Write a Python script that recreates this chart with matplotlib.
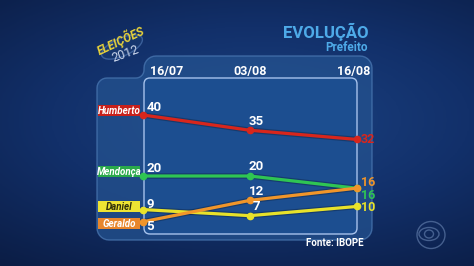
import numpy as np
import matplotlib.pyplot as plt
from matplotlib.colors import LinearSegmentedColormap
from matplotlib.patches import FancyBboxPatch, Ellipse, Polygon, Rectangle

plt.rcParams['font.family'] = ['Roboto', 'DejaVu Sans']

# data
dates = ["16/07", "03/08", "16/08"]
names = ["Humberto", "Mendonça", "Daniel", "Geraldo"]
humberto = [40, 35, 32]
mendonca = [20, 20, 16]
daniel = [9, 7, 10]
geraldo = [5, 12, 16]

series = [humberto, mendonca, daniel, geraldo]
colors = ["#d8261c", "#2fc553", "#e8e22a", "#f0952a"]
box_colors = ["#c8201a", "#2aa94a", "#eee433", "#e8862c"]
name_colors = ["white", "white", "#30300a", "white"]
# label nudges (in value units) so close labels don't collide
start_dy = [2.3, 2.3, 1.8, -1.6]
tag_dy = [1.4, 1.4, 0.9, -0.7]
end_dy = [0, -2.4, -0.2, 2.0]

W, H = 474, 266
fig = plt.figure(figsize=(W / 100, H / 100), dpi=100)

# background, pixel coords
bg = fig.add_axes([0, 0, 1, 1])
bg.set_xlim(0, W)
bg.set_ylim(H, 0)
bg.axis("off")
gx, gy = np.meshgrid(np.linspace(-1, 1, 200), np.linspace(-1, 1, 120))
grad = np.sqrt(((gx - 0.1) * 0.8) ** 2 + (gy + 0.1) ** 2)
cmap = LinearSegmentedColormap.from_list("bgc", ["#1b4282", "#12306a", "#0b1d45"])
bg.imshow(grad, extent=[0, W, H, 0], cmap=cmap, aspect="auto", zorder=0)


def arc(cx, cy, r, a0, a1, n=8):
    t = np.radians(np.linspace(a0, a1, n))
    return list(zip(cx + r * np.cos(t), cy + r * np.sin(t)))


# outer panel with tab (y grows downward)
pts = []
pts += arc(107, 88, 10, 180, 270)          # top-left of lower part
pts += arc(136, 70, 8, 90, 0)              # curve up into tab
pts += arc(156, 68, 12, 180, 270)          # tab top-left
pts += arc(360, 68, 12, 270, 360)          # top-right
pts += arc(360, 228, 12, 0, 90)            # bottom-right
pts += arc(109, 228, 12, 90, 180)          # bottom-left
bg.add_patch(Polygon(pts, closed=True, fc="#24528f", ec="#4a78b2", lw=1,
                     alpha=0.75, zorder=1))
inner = FancyBboxPatch((144, 78), 213, 156, boxstyle="round,pad=0,rounding_size=6",
                       fc="#1c4e90", ec="#a6c2ec", lw=1, zorder=2)
bg.add_patch(inner)

# titles
bg.text(369, 38, "EVOLUÇÃO", color="#4eaae8", fontsize=12, fontweight="bold",
        ha="right", va="baseline", zorder=3)
bg.text(368, 51, "Prefeito", color="#4eaae8", fontsize=8.5, fontweight="bold",
        ha="right", va="baseline", zorder=3)
bg.text(335, 243, "Fonte: IBOPE", color="white", fontsize=7, fontweight="bold",
        ha="center", va="center", zorder=3)

# logo
bg.add_patch(Ellipse((122, 47), 44, 18, angle=-24, fc="#16366e", ec="#3a5f9a",
                     lw=1, zorder=1))
bg.text(121, 40, "ELEIÇÕES", color="#e8d23a", fontsize=8.5, fontweight="bold",
        fontstyle="italic", rotation=25, ha="center", va="center", zorder=3)
bg.text(125, 54, "2012", color="#c8d4ea", fontsize=9, rotation=20,
        ha="center", va="center", zorder=3)

# tv logo
bg.add_patch(Ellipse((431, 235), 28, 27, fill=False, ec="#6a86b4", lw=1, alpha=0.6, zorder=1))
bg.add_patch(Ellipse((429, 234), 20, 13, fill=False, ec="#6a86b4", lw=1, alpha=0.6, zorder=1))
bg.add_patch(Ellipse((429, 234), 9, 8, fill=False, ec="#6a86b4", lw=1, alpha=0.6, zorder=1))

# data axes: x=0 -> px 143, x=2 -> px 356.5 ; v=40 -> px 115, 3.05 px per unit
ax = fig.add_axes([97 / W, 1 - 240 / H, 278 / W, 183 / H])
ax.patch.set_alpha(0)
ax.set_xlim(-46 / 106.75, 2 + 18.5 / 106.75)
ax.set_ylim(40 - (240 - 115) / 3.05, 40 + (115 - 57) / 3.05)
ax.axis("off")

x = np.arange(len(dates))
for i, (vals, name) in enumerate(zip(series, names)):
    ax.plot(x, vals, color="#0a1a30", lw=4, alpha=0.35, zorder=3)
    ax.plot(x, vals, color=colors[i], lw=2.3, marker="o", ms=4.5, zorder=4 + i * 0.1)
    ax.text(x[0] + 0.03, vals[0] + start_dy[i], str(vals[0]), color="white", fontsize=9.5,
            fontweight="bold", ha="left", va="center", zorder=6)
    ax.text(x[1] + 0.06, vals[1] + 3.0, str(vals[1]), color="white", fontsize=9.5,
            fontweight="bold", ha="center", va="center", zorder=6)
    ax.text(x[2] + 0.04, vals[2] + end_dy[i], str(vals[2]), color=colors[i],
            fontsize=9, fontweight="bold", ha="left", va="center", zorder=6)
    # name tag, fixed width box
    yc = vals[0] + tag_dy[i]
    ax.add_patch(Rectangle((-0.42, yc - 1.8), 0.39, 3.6, fc=box_colors[i], ec="none",
                           zorder=5))
    ax.text(-0.225, yc, name, color=name_colors[i], fontsize=7,
            fontweight="bold", fontstyle="italic", ha="center", va="center", zorder=6)

date_dx = [0.22, 0, -0.03]
for xi, d in zip(x, dates):
    ax.text(xi + date_dx[xi], 58.6 - 13 / 3.05, d, color="white", fontsize=9,
            fontweight="bold", ha="center", va="center", zorder=6)

fig.savefig("out.png", dpi=100)
